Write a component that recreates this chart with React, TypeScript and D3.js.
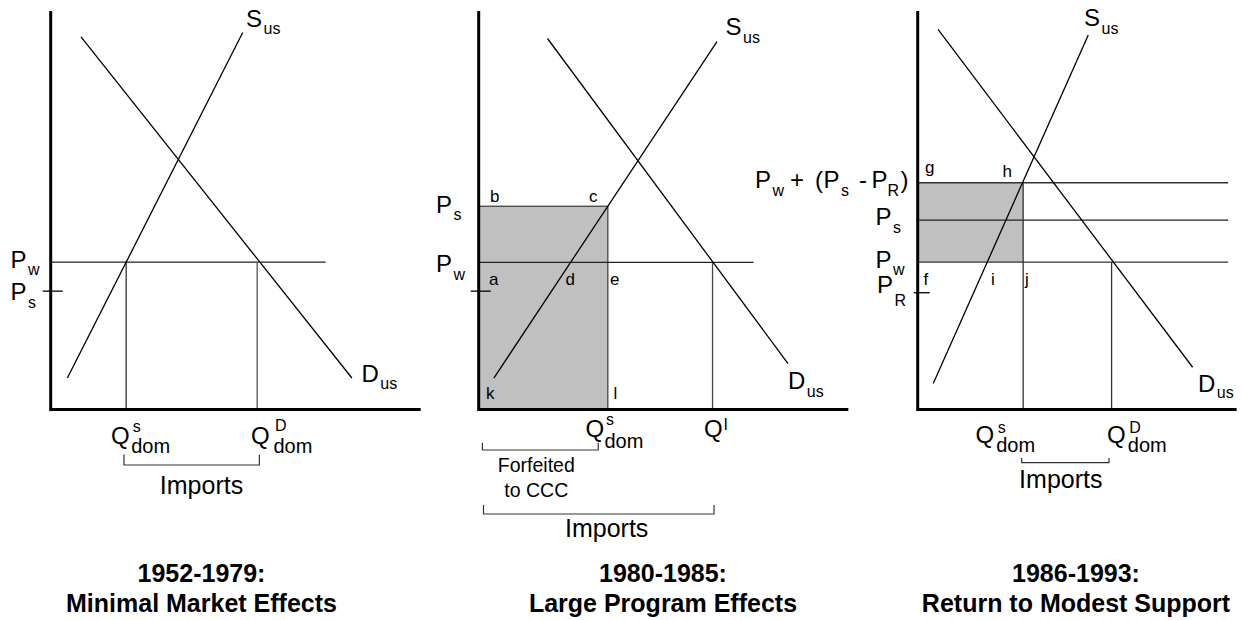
import React from "react";
import * as d3 from "d3";

const FONT = "Arial, 'Liberation Sans', Helvetica, sans-serif";
const W = 1243;
const H = 620;

// ---- shared layout ----
const Y_TOP = 11;
const Y_BASE = 409.5;
const PX_PER_Q = 3.7;
const panelOrigins = [50.7, 478.7, 917.7];
const axisLengthQ = [100, 99.9, 86.2];

// ---- Panel 1: 1952-1979 ----
const supply1: [number, number][] = [[4.5, 7.9], [51.9, 94.6]];
const demand1: [number, number][] = [[8.2, 93.5], [81.4, 7.9]];
const pw1 = 37.0;
const psTick1 = 29.7;
const pwEnd1 = 74.3;
const qs1 = 20.4;
const qd1 = 55.8;
const imports1: [number, number] = [19.8, 56.4];

// ---- Panel 2: 1980-1985 ----
const supply2: [number, number][] = [[4.1, 7.9], [64.4, 92.3]];
const demand2: [number, number][] = [[18.6, 93.1], [83.6, 11.5]];
const ps2 = 51.0;
const pw2 = 36.9;
const tick2 = 29.7;
const pwEnd2 = 74.3;
const qs2 = 34.9;
const qi2 = 63.2;
const forfeited2: [number, number] = [1.0, 32.3];
const imports2: [number, number] = [1.3, 63.6];

// ---- Panel 3: 1986-1993 ----
const supply3: [number, number][] = [[4.2, 6.5], [46.1, 94.0]];
const demand3: [number, number][] = [[5.5, 95.4], [74.3, 10.6]];
const pg3 = 56.9;
const ps3 = 47.5;
const pw3 = 37.0;
const pr3 = 29.3;
const lineEnd3 = 83.9;
const qs3 = 28.5;
const qd3 = 52.4;
const imports3: [number, number] = [28.1, 51.7];

const titles = [
  ["1952-1979:", "Minimal Market Effects"],
  ["1980-1985:", "Large Program Effects"],
  ["1986-1993:", "Return to Modest Support"],
];
const titleCenters = [201.5, 663, 1076];

const yScale = d3.scaleLinear().domain([0, 100]).range([Y_BASE, Y_TOP]);
const xScales = panelOrigins.map((o) =>
  d3.scaleLinear().domain([0, 100]).range([o, o + 100 * PX_PER_Q])
);
const lineGen = (xs: d3.ScaleLinear<number, number>) =>
  d3
    .line<[number, number]>()
    .x((d) => xs(d[0]))
    .y((d) => yScale(d[1]));

const MAIN = 24;
const SUB = 16;
const LET = 17;
const DOM = 20;
const SUP = 16;

function Sub({ x, y, main, sub, dy = 8, dx = 1.5 }: any) {
  return (
    <text x={x} y={y} fontSize={MAIN} fontFamily={FONT}>
      <tspan>{main}</tspan>
      <tspan fontSize={SUB} dy={dy} dx={dx}>
        {sub}
      </tspan>
    </text>
  );
}

function QLabel({ x, y, sup, supY, subX, subY }: any) {
  return (
    <g fontFamily={FONT}>
      <text x={x} y={y} fontSize={MAIN}>Q</text>
      <text x={subX + 1.5} y={supY} fontSize={SUP}>{sup}</text>
      <text x={subX} y={subY} fontSize={DOM}>dom</text>
    </g>
  );
}

function Letter({ x, y, t }: any) {
  return (
    <text x={x} y={y} fontSize={LET} fontFamily={FONT}>
      {t}
    </text>
  );
}

function Bracket({ xs, q, yTop, yBot }: any) {
  const x1 = xs(q[0]);
  const x2 = xs(q[1]);
  return (
    <path
      d={`M${x1},${yTop}V${yBot}H${x2}V${yTop}`}
      fill="none"
      stroke="#333"
      strokeWidth={1.2}
    />
  );
}

function Axes({ i }: { i: number }) {
  const xs = xScales[i];
  return (
    <path
      d={`M${xs(0)},${yScale(100)}V${yScale(0)}H${xs(axisLengthQ[i])}`}
      fill="none"
      stroke="#000"
      strokeWidth={3}
    />
  );
}

function HLine({ xs, p, q0 = 0, q1, color = "#222" }: any) {
  return (
    <line x1={xs(q0)} x2={xs(q1)} y1={yScale(p)} y2={yScale(p)} stroke={color} strokeWidth={1.3} />
  );
}
function VLine({ xs, q, p0 = 0, p1, color = "#333" }: any) {
  return (
    <line x1={xs(q)} x2={xs(q)} y1={yScale(p0)} y2={yScale(p1)} stroke={color} strokeWidth={1.3} />
  );
}

function Curve({ xs, pts }: any) {
  return <path d={lineGen(xs)(pts) || ""} fill="none" stroke="#000" strokeWidth={1.3} />;
}

function Title({ i }: { i: number }) {
  return (
    <text
      x={titleCenters[i]}
      fontSize={25}
      fontWeight="bold"
      fontFamily={FONT}
      textAnchor="middle"
    >
      <tspan x={titleCenters[i]} y={581.7}>{titles[i][0]}</tspan>
      <tspan x={titleCenters[i]} y={611.7}>{titles[i][1]}</tspan>
    </text>
  );
}

function Panel1() {
  const xs = xScales[0];
  return (
    <g>
      <HLine xs={xs} p={pw1} q1={pwEnd1} />
      <line x1={xs(0) - 8} x2={xs(0) + 12} y1={yScale(psTick1)} y2={yScale(psTick1)} stroke="#000" strokeWidth={1.3} />
      <VLine xs={xs} q={qs1} p1={pw1} />
      <VLine xs={xs} q={qd1} p1={pw1} color="#555" />
      <Curve xs={xs} pts={supply1} />
      <Curve xs={xs} pts={demand1} />
      <Axes i={0} />
      <Sub x={246} y={26.7} main="S" sub="us" dy={7.7} />
      <Sub x={361.5} y={381.7} main="D" sub="us" dy={7.6} />
      <Sub x={10.5} y={268.3} main="P" sub="w" dy={7} />
      <Sub x={10.5} y={300} main="P" sub="s" dy={8.3} />
      <QLabel x={111} y={444} sup="s" supY={431.7} subX={131.2} subY={453.3} />
      <QLabel x={251} y={444} sup="D" supY={431} subX={273.5} subY={453.3} />
      <Bracket xs={xs} q={imports1} yTop={454.5} yBot={465} />
      <text x={201.5} y={494.3} fontSize={25} fontFamily={FONT} textAnchor="middle">Imports</text>
      <Title i={0} />
    </g>
  );
}

function Panel2() {
  const xs = xScales[1];
  return (
    <g>
      <rect
        x={xs(0)}
        y={yScale(ps2)}
        width={xs(qs2) - xs(0)}
        height={yScale(0) - yScale(ps2)}
        fill="#c0c0c0"
        stroke="#444"
        strokeWidth={1.3}
      />
      <HLine xs={xs} p={pw2} q1={pwEnd2} />
      <line x1={xs(0) - 8} x2={xs(0) + 12} y1={yScale(tick2)} y2={yScale(tick2)} stroke="#000" strokeWidth={1.3} />
      <VLine xs={xs} q={qi2} p1={pw2} color="#444" />
      <Curve xs={xs} pts={supply2} />
      <Curve xs={xs} pts={demand2} />
      <Axes i={1} />
      <Sub x={725.5} y={35} main="S" sub="us" dy={8} />
      <Sub x={788} y={389.3} main="D" sub="us" dy={7.4} />
      <Sub x={436} y={213.3} main="P" sub="s" dy={6.7} />
      <Sub x={436} y={271.7} main="P" sub="w" dy={8.3} />
      <Letter x={490} y={201.7} t="b" />
      <Letter x={589} y={201.7} t="c" />
      <Letter x={489} y={285} t="a" />
      <Letter x={565.5} y={285} t="d" />
      <Letter x={610} y={285} t="e" />
      <Letter x={486} y={399.3} t="k" />
      <Letter x={613.5} y={399.3} t="l" />
      <QLabel x={585.5} y={437.3} sup="s" supY={425} subX={604.5} subY={448.3} />
      <text x={704} y={437.3} fontSize={MAIN} fontFamily={FONT}>Q</text>
      <text x={723.5} y={429.5} fontSize={SUP} fontFamily={FONT}>I</text>
      <Bracket xs={xs} q={forfeited2} yTop={442.7} yBot={450} />
      <text fontSize={19.5} fontFamily={FONT} textAnchor="middle">
        <tspan x={536.3} y={471.7}>Forfeited</tspan>
        <tspan x={536.3} y={496.7}>to CCC</tspan>
      </text>
      <Bracket xs={xs} q={imports2} yTop={505} yBot={514} />
      <text x={606.7} y={537.3} fontSize={25} fontFamily={FONT} textAnchor="middle">Imports</text>
      <Title i={1} />
    </g>
  );
}

function Panel3() {
  const xs = xScales[2];
  return (
    <g>
      <rect
        x={xs(0)}
        y={yScale(pg3)}
        width={xs(qs3) - xs(0)}
        height={yScale(pw3) - yScale(pg3)}
        fill="#c0c0c0"
      />
      <HLine xs={xs} p={pg3} q1={lineEnd3} color="#333" />
      <HLine xs={xs} p={ps3} q1={lineEnd3} color="#222" />
      <HLine xs={xs} p={pw3} q1={lineEnd3} color="#333" />
      <line x1={xs(0) - 4} x2={xs(0) + 12} y1={yScale(pr3)} y2={yScale(pr3)} stroke="#000" strokeWidth={1.3} />
      <VLine xs={xs} q={qs3} p1={pg3} color="#333" />
      <VLine xs={xs} q={qd3} p1={pw3} color="#333" />
      <Curve xs={xs} pts={supply3} />
      <Curve xs={xs} pts={demand3} />
      <Axes i={2} />
      <Sub x={1084} y={26} main="S" sub="us" dy={8} />
      <Sub x={1198} y={391.7} main="D" sub="us" dy={6.6} />
      <text y={188.3} fontSize={MAIN} fontFamily={FONT}>
        <tspan x={755}>P</tspan>
        <tspan x={772.5} dy={8} fontSize={SUB}>w</tspan>
        <tspan x={790} dy={-8}>+</tspan>
        <tspan x={815}>(</tspan>
        <tspan x={823.5}>P</tspan>
        <tspan x={841} dy={8} fontSize={SUB}>s</tspan>
        <tspan x={859} dy={-8}>-</tspan>
        <tspan x={871.5}>P</tspan>
        <tspan x={887.5} dy={8} fontSize={SUB}>R</tspan>
        <tspan x={900.5} dy={-8}>)</tspan>
      </text>
      <Sub x={875.5} y={225} main="P" sub="s" dy={8} />
      <Sub x={875.5} y={268.3} main="P" sub="w" dy={6.7} />
      <Sub x={877} y={293.3} main="P" sub="R" dy={12.7} />
      <Letter x={925} y={173.3} t="g" />
      <Letter x={1002.5} y={176.7} t="h" />
      <Letter x={923.5} y={285} t="f" />
      <Letter x={991} y={285} t="i" />
      <Letter x={1025} y={285} t="j" />
      <QLabel x={975.5} y={443.3} sup="s" supY={432.7} subX={996.2} subY={451.7} />
      <QLabel x={1107} y={443.3} sup="D" supY={432.7} subX={1127.8} subY={451.7} />
      <Bracket xs={xs} q={imports3} yTop={458} yBot={462.7} />
      <text x={1060.8} y={488.3} fontSize={25} fontFamily={FONT} textAnchor="middle">Imports</text>
      <Title i={2} />
    </g>
  );
}

export default function App() {
  return (
    <svg
      width={W}
      height={H}
      viewBox={`0 0 ${W} ${H}`}
      style={{ position: "absolute", left: 0, top: 0, background: "#fff" }}
    >
      <rect width={W} height={H} fill="#fff" />
      <Panel1 />
      <Panel2 />
      <Panel3 />
    </svg>
  );
}
